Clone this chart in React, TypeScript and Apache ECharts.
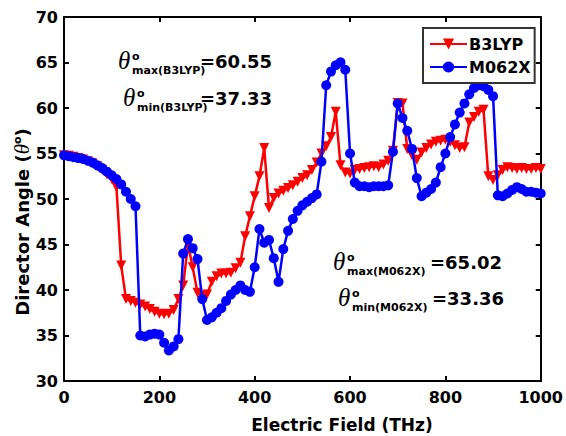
import React, { useEffect, useRef } from "react";
import * as echarts from "echarts";

const xs = [
  0, 10, 20, 30, 40, 50, 60, 70, 80, 90,
  100, 110, 120, 130, 140, 150, 160, 170, 180, 190,
  200, 210, 220, 230, 240, 250, 260, 270, 280, 290,
  300, 310, 320, 330, 340, 350, 360, 370, 380, 390,
  400, 410, 420, 430, 440, 450, 460, 470, 480, 490,
  500, 510, 520, 530, 540, 550, 560, 570, 580, 590,
  600, 610, 620, 630, 640, 650, 660, 670, 680, 690,
  700, 710, 720, 730, 740, 750, 760, 770, 780, 790,
  800, 810, 820, 830, 840, 850, 860, 870, 880, 890,
  900, 910, 920, 930, 940, 950, 960, 970, 980, 990,
  1000,
];

const b3lyp = [
  54.8, 54.75, 54.65, 54.5, 54.35, 54.15, 53.9, 53.6, 53.2, 52.7,
  52.2, 51.3, 42.7, 39.0, 38.8, 38.6, 38.4, 38.2, 37.9, 37.6,
  37.4, 37.33, 37.4, 37.8, 39.0, 40.5, 45.0, 42.5, 39.7, 39.3,
  39.5, 40.9, 41.5, 41.8, 41.8, 41.9, 42.4, 43.0, 45.9, 48.1,
  50.3, 52.5, 55.6, 49.0, 50.1, 50.6, 50.9, 51.2, 51.5, 51.9,
  52.3, 52.6, 53.2, 54.0, 55.0, 55.8, 56.8, 59.6, 53.7, 52.9,
  52.8, 53.2, 53.3, 53.4, 53.5, 53.6, 53.5, 53.8, 54.2, 55.3,
  60.55, 60.5, 55.5, 54.8, 54.3, 55.1, 55.6, 56.0, 56.3, 56.4,
  56.5, 56.3, 55.9, 55.6, 55.7, 58.4, 59.0, 59.6, 59.8, 52.5,
  52.1, 52.6, 53.2, 53.5, 53.4, 53.3, 53.4, 53.3, 53.3, 53.4,
  53.3,
];

const m062x = [
  54.8, 54.7, 54.6, 54.5, 54.4, 54.2, 54.0, 53.7, 53.4, 53.0,
  52.6, 52.2, 51.6, 50.8, 50.0, 49.2, 35.0, 34.9, 35.1, 35.2,
  35.1, 34.2, 33.36, 33.8, 34.6, 44.0, 45.6, 44.6, 43.4, 39.0,
  36.7, 37.0, 37.5, 38.0, 38.8, 39.5, 40.0, 40.5, 40.0, 39.8,
  42.5, 46.7, 45.2, 45.5, 43.5, 40.9, 44.5, 46.5, 47.8, 48.7,
  49.3, 49.7, 50.1, 50.5, 54.1, 62.5, 64.0, 64.7, 65.02, 64.2,
  55.0, 51.8, 51.4, 51.4, 51.3, 51.4, 51.4, 51.4, 51.5, 55.2,
  60.5, 58.9, 57.5, 55.5, 52.3, 50.3, 50.7, 51.1, 51.8, 53.5,
  55.0, 56.8, 58.2, 59.5, 60.5, 61.5, 62.2, 62.5, 62.4, 62.0,
  61.3, 50.4, 50.3, 50.6, 51.0, 51.3, 51.1, 50.8, 50.8, 50.7,
  50.6,
];

const seriesNames = ["B3LYP", "M062X"];
const xTicks = { min: 0, max: 1000, interval: 200 };
const yTicks = { min: 30, max: 70, interval: 5 };
const xTitle = "Electric Field (THz)";
const yTitle = "{a|Director Angle (}{t|θ}{s|o}{a|)}";

const notes = [
  { sub: "max(B3LYP)", val: "=60.55" },
  { sub: "min(B3LYP)", val: "=37.33" },
  { sub: "max(M062X)", val: "=65.02" },
  { sub: "min(M062X)", val: "=33.36" },
];

const SANS = "DejaVu Sans";
const SERIF = "Liberation Serif";

function noteGroup(n: { sub: string; val: string }, x: number, y: number, valX: number) {
  return {
    type: "group",
    x,
    y,
    children: [
      {
        type: "text",
        x: 0,
        y: 0,
        style: { text: "θ", font: `italic 25px '${SERIF}'`, fill: "#000", textAlign: "left", textVerticalAlign: "middle" },
      },
      {
        type: "text",
        x: 14,
        y: -4,
        style: { text: "o", font: `bold 11px '${SANS}'`, fill: "#000", textAlign: "left", textVerticalAlign: "middle" },
      },
      {
        type: "text",
        x: 14,
        y: 10,
        style: { text: n.sub, font: `bold 11px '${SANS}'`, fill: "#000", textAlign: "left", textVerticalAlign: "middle" },
      },
      {
        type: "text",
        x: valX,
        y: 1,
        style: { text: n.val, font: `bold 18px '${SANS}'`, fill: "#000", textAlign: "left", textVerticalAlign: "middle" },
      },
    ],
  };
}

export default function App() {
  const ref = useRef<HTMLDivElement>(null);
  useEffect(() => {
    if (!ref.current) return;
    const chart = echarts.init(ref.current, null, { renderer: "svg" });
    const axisCommon = {
      axisLine: { show: true, onZero: false, lineStyle: { color: "#000", width: 2 } },
      axisTick: { show: true, inside: true, length: 5, lineStyle: { color: "#000", width: 2 } },
      splitLine: { show: false },
    };
    const labelStyle = { color: "#000", fontFamily: SANS, fontWeight: "bold", fontSize: 16 };
    chart.setOption({
      animation: false,
      backgroundColor: "#fff",
      grid: { left: 64, right: 24, top: 17, bottom: 55 },
      xAxis: [
        {
          type: "value",
          ...xTicks,
          ...axisCommon,
          axisLabel: { ...labelStyle, margin: 8, formatter: (v: number) => String(v) },
        },
        {
          type: "value",
          position: "top",
          ...xTicks,
          ...axisCommon,
          axisLabel: { show: false },
        },
      ],
      yAxis: [
        {
          type: "value",
          ...yTicks,
          ...axisCommon,
          axisLabel: { ...labelStyle, margin: 6 },
        },
        {
          type: "value",
          position: "right",
          ...yTicks,
          ...axisCommon,
          axisLabel: { show: false },
        },
      ],
      legend: {
        data: seriesNames,
        orient: "vertical",
        left: 423,
        top: 28,
        backgroundColor: "#fff",
        borderColor: "#333",
        borderWidth: 2,
        borderRadius: 0,
        padding: [8, 4, 8, 6],
        itemWidth: 37,
        itemHeight: 14,
        itemGap: 7,
        textStyle: { color: "#000", fontFamily: SANS, fontWeight: "bold", fontSize: 16, padding: [0, 0, 0, -3] },
      },
      series: [
        {
          name: seriesNames[0],
          type: "line",
          data: xs.map((x, i) => [x, b3lyp[i]]),
          symbol: "triangle",
          symbolRotate: 180,
          symbolSize: 10,
          color: "#ff0000",
          lineStyle: { color: "#ff0000", width: 2.5 },
          itemStyle: { color: "#ff0000" },
          z: 2,
        },
        {
          name: seriesNames[1],
          type: "line",
          data: xs.map((x, i) => [x, m062x[i]]),
          symbol: "circle",
          symbolSize: 10,
          color: "#0000ff",
          lineStyle: { color: "#0000ff", width: 2.5 },
          itemStyle: { color: "#0000ff" },
          z: 3,
        },
      ],
      graphic: [
        {
          type: "text",
          x: 342,
          y: 425,
          style: {
            text: xTitle,
            font: `bold 17px '${SANS}'`,
            fill: "#000",
            textAlign: "center",
            textVerticalAlign: "middle",
          },
        },
        {
          type: "text",
          x: 22,
          y: 222,
          rotation: Math.PI / 2,
          style: {
            text: yTitle,
            textAlign: "center",
            textVerticalAlign: "middle",
            rich: {
              a: { fontFamily: SANS, fontWeight: "bold", fontSize: 18, fill: "#000" },
              t: { fontFamily: SERIF, fontStyle: "italic", fontSize: 21, fill: "#000" },
              s: { fontFamily: SANS, fontWeight: "bold", fontSize: 11, fill: "#000", verticalAlign: "top" },
            },
          },
        },
        noteGroup(notes[0], 118, 60, 82),
        noteGroup(notes[1], 123, 97, 77),
        noteGroup(notes[2], 333, 261, 97),
        noteGroup(notes[3], 338, 297, 94),
      ],
    });
    return () => chart.dispose();
  }, []);
  return (
    <div
      ref={ref}
      style={{ position: "fixed", left: 0, top: 0, width: 566, height: 436, background: "#fff" }}
    />
  );
}
